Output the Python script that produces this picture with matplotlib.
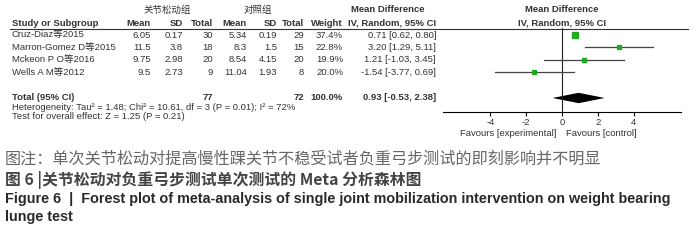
import numpy as np
import matplotlib
matplotlib.use("Agg")
import matplotlib.pyplot as plt
import matplotlib.transforms as mtransforms

# data
studies = ["Cruz-Diaz等2015", "Marron-Gomez D等2015", "Mckeon P O等2016", "Wells A M等2012"]
exp_mean = ["6.05", "11.5", "9.75", "9.5"]
exp_sd = ["0.17", "3.8", "2.98", "2.73"]
exp_n = [30, 18, 20, 9]
ctl_mean = ["5.34", "8.3", "8.54", "11.04"]
ctl_sd = ["0.19", "1.5", "4.15", "1.93"]
ctl_n = [29, 15, 20, 8]
weights = [37.4, 22.8, 19.9, 20.0]
md = [0.71, 3.20, 1.21, -1.54]
ci_lo = [0.62, 1.29, -1.03, -3.77]
ci_hi = [0.80, 5.11, 3.45, 0.69]
total_md, total_lo, total_hi = 0.93, -0.53, 2.38
ticks = [-4, -2, 0, 2, 4]

hetero = "Heterogeneity: Tau\u00b2 = 1.48; Chi\u00b2 = 10.61, df = 3 (P = 0.01); I\u00b2 = 72%"
overall = "Test for overall effect: Z = 1.25 (P = 0.21)"
caption = [
    "图注：单次关节松动对提高慢性踝关节不稳受试者负重弓步测试的即刻影响并不明显",
    "图 6 |关节松动对负重弓步测试单次测试的 Meta 分析森林图",
    "Figure 6  |  Forest plot of meta-analysis of single joint mobilization intervention on weight bearing",
    "lunge test",
]

FONT = ["Liberation Sans", "Noto Sans CJK SC", "DejaVu Sans"]
CJK = ["Noto Sans CJK SC", "DejaVu Sans"]
TXT = "#333333"
FS = 6.8
GREEN = "#22a822"

fig = plt.figure(figsize=(7, 2.4), dpi=100)
fig.patch.set_facecolor("white")

# full figure overlay in pixel units for the table text
tab = fig.add_axes([0, 0, 1, 1])
tab.set_xlim(0, 700)
tab.set_ylim(240, 0)
tab.axis("off")

# forest panel: x in mean difference, y in row index
top_px, bot_px = 28, 112
row0_px, row_dy = 35, 12.35
fax = fig.add_axes([443 / 700, 1 - bot_px / 240, (681 - 443) / 700, (bot_px - top_px) / 240])
fax.set_xlim(-6.65, 6.65)
fax.set_ylim((bot_px - row0_px) / row_dy, (top_px - row0_px) / row_dy)
fax.patch.set_alpha(0)
for s in ["top", "left", "right"]:
    fax.spines[s].set_visible(False)
fax.spines["bottom"].set_linewidth(0.8)
fax.set_xticks(ticks)
fax.set_xticklabels([str(t) for t in ticks], fontsize=FS, family=FONT, color=TXT)
fax.tick_params(axis="x", length=3, width=0.8, pad=1.2)
fax.set_yticks([])
fax.axvline(0, color="#222222", lw=0.8)

rows = np.arange(len(studies))
total_row = 5.1
sizes = [4.6, 3.0, 3.0, 3.0]
for r, m, lo, hi, s in zip(rows, md, ci_lo, ci_hi, sizes):
    fax.plot([lo, hi], [r, r], color="#444444", lw=0.9)
    fax.plot(m, r, marker="s", ms=s, color=GREEN, mec=GREEN)
fax.fill([total_lo, total_md, total_hi, total_md],
         [total_row, total_row - 0.42, total_row, total_row + 0.42],
         color="black", lw=0)

ftr = mtransforms.blended_transform_factory(fax.transData, tab.transData)
fax.text(-0.3, 133, "Favours [experimental]", transform=ftr, ha="right", va="center",
         fontsize=FS, family=FONT, color=TXT)
fax.text(0.25, 133, "Favours [control]", transform=ftr, ha="left", va="center",
         fontsize=FS, family=FONT, color=TXT)

# headers
def put(x, y, s, ha="right", bold=False, fam=FONT, tr=None, **kw):
    tab.text(x, y, s, ha=ha, va="center", fontsize=FS, family=fam, color=TXT,
             fontweight="bold" if bold else "normal", transform=tr or tab.transData, **kw)

put(167, 10, "关节松动组", ha="center", fam=CJK)
put(258, 10, "对照组", ha="center", fam=CJK)
put(388, 10, "Mean Difference", ha="center", bold=True)
fax.text(0, 10, "Mean Difference", transform=ftr, ha="center", va="center",
         fontsize=FS, family=FONT, color=TXT, fontweight="bold")
put(12, 23, "Study or Subgroup", ha="left", bold=True)
cols_x = [151, 183, 213, 247, 277, 304, 343, 436]
for x, h in zip(cols_x, ["Mean", "SD", "Total", "Mean", "SD", "Total", "Weight",
                         "IV, Random, 95% CI"]):
    put(x, 23, h, bold=True)
fax.text(0, 23, "IV, Random, 95% CI", transform=ftr, ha="center", va="center",
         fontsize=FS, family=FONT, color=TXT, fontweight="bold")
tab.plot([10, 688], [28.5, 28.5], color="#333333", lw=0.8)

# study rows
rtr = mtransforms.blended_transform_factory(tab.transData, fax.transData)
for i, r in enumerate(rows):
    put(12, r, studies[i], ha="left", tr=rtr)
    vals = [exp_mean[i], exp_sd[i], str(exp_n[i]), ctl_mean[i], ctl_sd[i], str(ctl_n[i]),
            "%.1f%%" % weights[i],
            "%.2f [%.2f, %.2f]" % (md[i], ci_lo[i], ci_hi[i])]
    for x, v in zip(cols_x, vals):
        put(x, r, v, tr=rtr)

put(12, total_row, "Total (95% CI)", ha="left", bold=True, tr=rtr)
put(cols_x[2], total_row, str(sum(exp_n)), bold=True, tr=rtr)
put(cols_x[5], total_row, str(sum(ctl_n)), bold=True, tr=rtr)
put(cols_x[6], total_row, "100.0%", bold=True, tr=rtr)
put(cols_x[7], total_row, "%.2f [%.2f, %.2f]" % (total_md, total_lo, total_hi), bold=True, tr=rtr)
put(12, 107, hetero, ha="left")
put(12, 116.5, overall, ha="left")

# caption
tab.text(5, 159, caption[0], ha="left", va="center", fontsize=11.6, family=CJK, color="#666666")
tab.text(5, 180, caption[1], ha="left", va="center", fontsize=11.4, family=CJK,
         color="#444444", fontweight="bold")
tab.text(5, 199, caption[2], ha="left", va="center", fontsize=10.4, family=["Liberation Sans"],
         color="#2a2a2a", fontweight="bold")
tab.text(5, 217, caption[3], ha="left", va="center", fontsize=10.4, family=["Liberation Sans"],
         color="#2a2a2a", fontweight="bold")

fig.savefig("out.png", dpi=100, facecolor="white")
